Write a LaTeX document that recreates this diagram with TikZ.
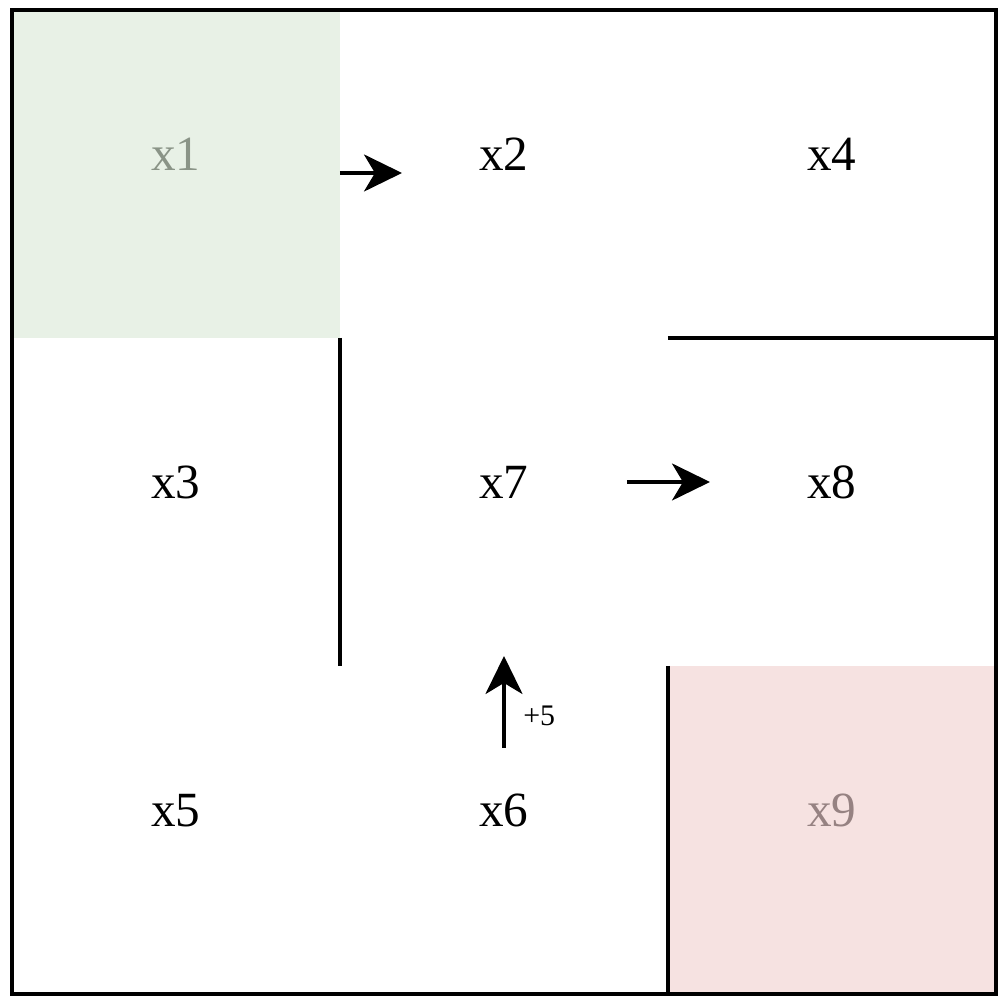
\documentclass[tikz,border=0pt]{standalone}
\usepackage{fontspec}
\setmainfont{Liberation Serif}
\usepackage{tikz}
\usetikzlibrary{arrows.meta, positioning}
\definecolor{mydark}{RGB}{0,0,0}
\definecolor{startfill}{RGB}{232,241,230}
\definecolor{starttext}{RGB}{138,148,135}
\definecolor{goalfill}{RGB}{246,226,225}
\definecolor{goaltext}{RGB}{150,130,130}
\tikzset{
  cell/.style={rectangle, minimum size=3.28cm, inner sep=0pt, outer sep=0pt},
  startcell/.style={cell, fill=startfill},
  goalcell/.style={cell, fill=goalfill},
  cellname/.style={anchor=base, inner sep=0pt, yshift=0.03cm,
    font=\fontsize{14}{16}\selectfont},
  wall/.style={line width=1.1pt, color=mydark},
  move/.style={-{Stealth[length=3.8mm, width=3.7mm, inset=1.1mm]}, line width=1pt, color=mydark},
  reward/.style={font=\fontsize{8.5}{10}\selectfont, inner sep=1pt}
}
\begin{document}
\begin{tikzpicture}
  \useasboundingbox (0,0) rectangle (10.06,10.04);

  % Cells of the grid
  \node[startcell] (x1) at (1.76,8.30) {};
  \node[cell, right=0pt of x1] (x2) {};
  \node[cell, right=0pt of x2] (x4) {};
  \node[cell, below=0pt of x1] (x3) {};
  \node[cell, below=0pt of x2] (x7) {};
  \node[cell, below=0pt of x4] (x8) {};
  \node[cell, below=0pt of x3] (x5) {};
  \node[cell, below=0pt of x7] (x6) {};
  \node[goalcell, below=0pt of x8] (x9) {};

  % Labels sit on the cell centre line
  \foreach \c in {x2,x3,x4,x5,x6,x7,x8} {
    \node[cellname] (lbl\c) at (\c.center) {\c};
  }
  \node[cellname, text=starttext] (lblx1) at (x1.center) {x1};
  \node[cellname, text=goaltext] (lblx9) at (x9.center) {x9};

  % Outer border and walls
  \draw[wall] (x1.north west) rectangle (x9.south east);
  \draw[wall] (x3.north east) -- (x3.south east);
  \draw[wall] (x8.north west) -- (x8.north east);
  \draw[wall] (x9.north west) -- (x9.south west);

  % Moves
  \coordinate (m1a) at (3.40,8.31);
  \coordinate (m1b) at (4.02,8.31);
  \coordinate (m2a) at (6.27,5.22);
  \coordinate (m2b) at (7.10,5.22);
  \coordinate (m3a) at (5.04,2.56);
  \coordinate (m3b) at (5.04,3.48);
  \draw[move] (m1a) -- (m1b);
  \draw[move] (m2a) -- (m2b);
  \draw[move] (m3a) -- (m3b) node[reward, pos=0.35, right=4pt] (r5) {+5};
\end{tikzpicture}
\end{document}
